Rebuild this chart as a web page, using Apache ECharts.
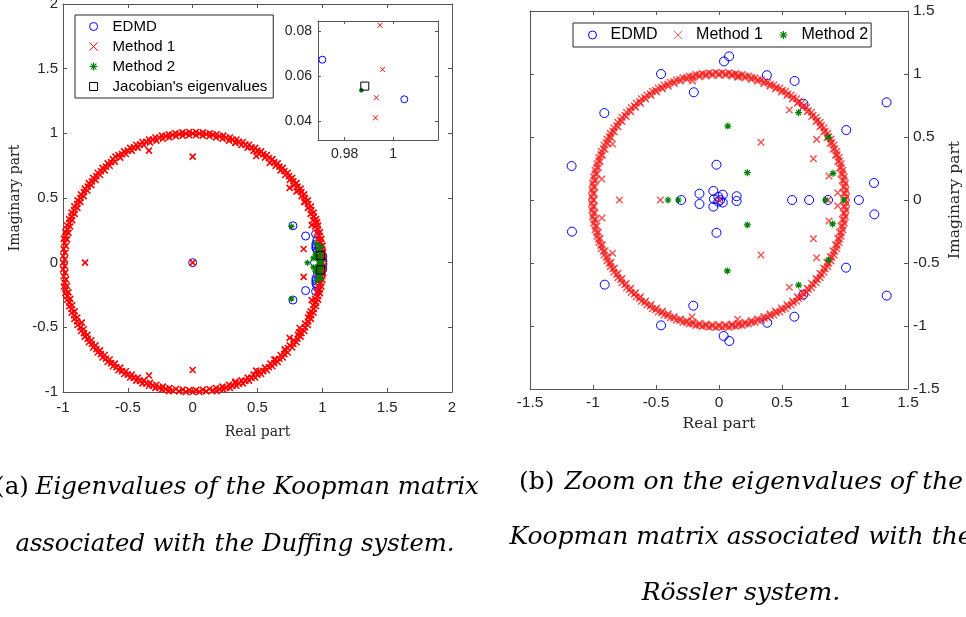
<!DOCTYPE html>
<html><head><meta charset="utf-8">
<script src="https://cdn.jsdelivr.net/npm/echarts@6/dist/echarts.min.js"></script>
<style>html,body{margin:0;padding:0;background:#fff}#c{width:966px;height:617px}</style>
</head><body><div id="c"></div>
<script>
// ---------------- data: left plot (Duffing) ----------------
const leftRing = [
[1.000,0],[0.999,0.052],[0.995,0.105],[0.988,0.156],[0.978,0.208],[0.966,0.259],[0.960,0.313],[0.934,0.358],[0.914,0.407],[0.891,0.454],[0.866,0.5],[0.839,0.545],[0.809,0.588],[0.777,0.629],[0.743,0.669],[0.707,0.707],[0.669,0.743],[0.629,0.777],[0.588,0.809],[0.545,0.839],[0.5,0.866],[0.454,0.891],[0.407,0.914],[0.358,0.934],[0.309,0.951],[0.259,0.966],[0.208,0.978],[0.156,0.988],[0.105,0.995],[0.052,0.999],
[0,1.000],[-0.052,0.999],[-0.105,0.995],[-0.156,0.988],[-0.208,0.978],[-0.259,0.966],[-0.309,0.951],[-0.358,0.934],[-0.407,0.914],[-0.454,0.891],[-0.5,0.866],[-0.545,0.839],[-0.595,0.82],[-0.629,0.777],[-0.669,0.743],[-0.707,0.707],[-0.743,0.669],[-0.777,0.629],[-0.809,0.588],[-0.839,0.545],[-0.866,0.5],[-0.891,0.454],[-0.914,0.407],[-0.934,0.358],[-0.951,0.309],[-0.966,0.259],[-0.978,0.208],[-0.988,0.156],[-0.995,0.105],[-0.999,0.052],
[-1.000,0],[-0.999,-0.052],[-0.995,-0.105],[-0.988,-0.156],[-0.978,-0.208],[-0.966,-0.259],[-0.951,-0.309],[-0.934,-0.358],[-0.914,-0.407],[-0.891,-0.454],[-0.866,-0.5],[-0.839,-0.545],[-0.809,-0.588],[-0.777,-0.629],[-0.743,-0.669],[-0.707,-0.707],[-0.669,-0.743],[-0.629,-0.777],[-0.588,-0.809],[-0.545,-0.839],[-0.5,-0.866],[-0.454,-0.891],[-0.407,-0.914],[-0.358,-0.934],[-0.309,-0.951],[-0.259,-0.966],[-0.208,-0.978],[-0.156,-0.988],[-0.105,-0.995],[-0.052,-0.999],
[0,-1.000],[0.052,-0.999],[0.105,-0.995],[0.156,-0.988],[0.208,-0.978],[0.259,-0.966],[0.309,-0.951],[0.358,-0.934],[0.407,-0.914],[0.454,-0.891],[0.5,-0.866],[0.545,-0.839],[0.588,-0.809],[0.629,-0.777],[0.669,-0.743],[0.707,-0.707],[0.733,-0.66],[0.777,-0.629],[0.809,-0.588],[0.839,-0.545],[0.866,-0.5],[0.891,-0.454],[0.914,-0.407],[0.934,-0.358],[0.951,-0.309],[0.966,-0.259],[0.978,-0.208],[0.988,-0.156],[0.995,-0.105],[0.999,-0.052],
[0.985,0.026],[0.982,0.077],[0.977,0.129],[0.969,0.18],[0.958,0.23],[0.944,0.28],[0.929,0.329],[0.91,0.377],[0.889,0.424],[0.866,0.47],[0.84,0.515],[0.812,0.558],[0.781,0.6],[0.749,0.64],[0.714,0.678],[0.678,0.714],[0.64,0.749],[0.595,0.772],[0.558,0.812],[0.515,0.84],[0.47,0.866],[0.424,0.889],[0.377,0.91],[0.329,0.929],[0.28,0.944],[0.23,0.958],[0.18,0.969],[0.129,0.977],[0.077,0.982],[0.026,0.985],
[-0.026,0.985],[-0.077,0.982],[-0.129,0.977],[-0.18,0.969],[-0.23,0.958],[-0.28,0.944],[-0.329,0.929],[-0.377,0.91],[-0.424,0.889],[-0.47,0.866],[-0.515,0.84],[-0.558,0.812],[-0.6,0.781],[-0.64,0.749],[-0.678,0.714],[-0.714,0.678],[-0.749,0.64],[-0.781,0.6],[-0.812,0.558],[-0.84,0.515],[-0.866,0.47],[-0.889,0.424],[-0.91,0.377],[-0.929,0.329],[-0.944,0.28],[-0.958,0.23],[-0.969,0.18],[-0.977,0.129],[-0.982,0.077],[-0.985,0.026],
[-0.985,-0.026],[-0.982,-0.077],[-0.977,-0.129],[-0.969,-0.18],[-0.958,-0.23],[-0.944,-0.28],[-0.929,-0.329],[-0.91,-0.377],[-0.889,-0.424],[-0.855,-0.464],[-0.84,-0.515],[-0.812,-0.558],[-0.781,-0.6],[-0.749,-0.64],[-0.714,-0.678],[-0.678,-0.714],[-0.64,-0.749],[-0.6,-0.781],[-0.558,-0.812],[-0.515,-0.84],[-0.47,-0.866],[-0.424,-0.889],[-0.377,-0.91],[-0.329,-0.929],[-0.28,-0.944],[-0.23,-0.958],[-0.18,-0.969],[-0.129,-0.977],[-0.077,-0.982],[-0.026,-0.985],
[0.026,-0.985],[0.077,-0.982],[0.129,-0.977],[0.18,-0.969],[0.23,-0.958],[0.28,-0.944],[0.329,-0.929],[0.377,-0.91],[0.424,-0.889],[0.47,-0.866],[0.515,-0.84],[0.558,-0.812],[0.6,-0.781],[0.64,-0.749],[0.678,-0.714],[0.714,-0.678],[0.749,-0.64],[0.781,-0.6],[0.812,-0.558],[0.825,-0.505],[0.866,-0.47],[0.889,-0.424],[0.91,-0.377],[0.929,-0.329],[0.944,-0.28],[0.958,-0.23],[0.969,-0.18],[0.977,-0.129],[0.982,-0.077],[0.985,-0.026],
[1.01,0.026],[1.007,0.079],[1.001,0.132],[0.993,0.184],[0.982,0.236],[0.968,0.287],[0.952,0.337],[0.933,0.387],[0.912,0.435],[0.888,0.482],[0.861,0.528],[0.832,0.572],[0.801,0.615],[0.768,0.656],[0.733,0.695],[0.695,0.733],[0.656,0.768],[0.615,0.801],[0.572,0.832],[0.528,0.861],[0.482,0.888],[0.435,0.912],[0.387,0.933],[0.337,0.952],[0.287,0.968],[0.236,0.982],[0.184,0.993],[0.132,1.001],[0.079,1.007],[0.026,1.01],
[-0.026,1.01],[-0.079,1.007],[-0.132,1.001],[-0.184,0.993],[-0.236,0.982],[-0.287,0.968],[-0.337,0.952],[-0.387,0.933],[-0.435,0.912],[-0.482,0.888],[-0.528,0.861],[-0.572,0.832],[-0.615,0.801],[-0.656,0.768],[-0.695,0.733],[-0.733,0.695],[-0.768,0.656],[-0.801,0.615],[-0.832,0.572],[-0.861,0.528],[-0.888,0.482],[-0.912,0.435],[-0.933,0.387],[-0.952,0.337],[-0.968,0.287],[-0.982,0.236],[-0.993,0.184],[-1.001,0.132],[-1.007,0.079],[-1.01,0.026],
[-1.01,-0.026],[-1.007,-0.079],[-1.001,-0.132],[-0.993,-0.184],[-0.982,-0.236],[-0.968,-0.287],[-0.952,-0.337],[-0.933,-0.387],[-0.912,-0.435],[-0.888,-0.482],[-0.861,-0.528],[-0.832,-0.572],[-0.801,-0.615],[-0.768,-0.656],[-0.733,-0.695],[-0.695,-0.733],[-0.656,-0.768],[-0.615,-0.801],[-0.572,-0.832],[-0.528,-0.861],[-0.482,-0.888],[-0.435,-0.912],[-0.387,-0.933],[-0.337,-0.952],[-0.287,-0.968],[-0.236,-0.982],[-0.184,-0.993],[-0.132,-1.001],[-0.079,-1.007],[-0.026,-1.01],
[0.026,-1.01],[0.079,-1.007],[0.132,-1.001],[0.184,-0.993],[0.236,-0.982],[0.287,-0.968],[0.337,-0.952],[0.387,-0.933],[0.435,-0.912],[0.482,-0.888],[0.528,-0.861],[0.572,-0.832],[0.615,-0.801],[0.656,-0.768],[0.695,-0.733],[0.733,-0.695],[0.768,-0.656],[0.801,-0.615],[0.832,-0.572],[0.861,-0.528],[0.888,-0.482],[0.912,-0.435],[0.933,-0.387],[0.952,-0.337],[0.968,-0.287],[0.982,-0.236],[0.993,-0.184],[1.001,-0.132],[1.007,-0.079],[1.01,-0.026]
];
const leftMethod1Extra = [[0,0],[-0.83,0],[-0.337,0.866],[-0.337,-0.872],[0,0.82],[0,-0.83],[0.49,0.825],[0.49,-0.835],[0.748,0.578],[0.748,-0.582],[0.856,0.106],[0.856,-0.11],[0.918,0.29],[0.918,-0.29],[0.993,0.05],[0.993,-0.05],[0.993,0.041],[0.993,-0.041],[0.996,0.063],[0.996,-0.063],[0.995,0.083],[0.995,-0.083],[0.33,-0.92],[0.33,0.925],[0.8,0.55],[0.82,-0.54],[0.71,-0.67],[0.86,0.47],[0.63,-0.75],[0.9,-0.4]];
const leftEdmd = [[0,0],[0.773,0.285],[0.773,-0.289],[0.871,0.206],[0.871,-0.216],[0.948,0.222],[0.948,-0.222],[0.95,0.145],[0.95,0.128],[0.95,0.112],[0.95,-0.124],[0.95,-0.142],[0.95,-0.16],[0.958,0.175],[0.958,-0.18],[0.962,0.09],[0.962,-0.09],[0.975,0.12],[0.975,-0.12],[0.971,0.067],[0.971,-0.067],[0.985,0.03],[0.985,-0.03],[1.004,0.049],[1.004,-0.049],[1.005,0.012],[1.005,-0.012],[0.94,0.0],[0.99,0.095],[0.99,-0.095]];
const leftMethod2 = [[0.762,0.28],[0.762,-0.28],[0.885,0],[0.987,0.054],[0.987,-0.054],[0.97,0.1],[0.97,-0.1],[0.99,0.125],[0.99,-0.125],[0.96,0.03],[0.96,-0.03],[0.985,0.085],[0.985,-0.085],[0.975,0.005],[0.945,0.065],[0.945,-0.065],[0.998,0.02],[0.998,-0.02],[0.93,0.035],[0.93,-0.035],[0.955,0.145],[0.955,-0.14]];
const leftJacobian = [[0.988,0.0555],[0.988,-0.0555]];
// inset (zoom of the left plot)
const insetEdmd = [[0.9708,0.0673],[1.0046,0.0496]];
const insetMethod1 = [[0.9946,0.0827],[0.9956,0.063],[0.9931,0.0503],[0.9927,0.0413]];
const insetMethod2 = [[0.9869,0.0536]];
const insetJacobian = [[0.9883,0.0555]];
const insetXTicks = [0.98, 1];
const insetYTicks = [0.04, 0.06, 0.08];

// ---------------- data: right plot (Rossler) ----------------
const rightRing = [
[1.012,0.026],[1.009,0.079],[1.003,0.132],[0.995,0.184],[0.984,0.236],[0.97,0.287],[0.954,0.338],[0.935,0.387],[0.913,0.436],[0.889,0.483],[0.863,0.529],[0.834,0.573],[0.803,0.616],[0.77,0.657],[0.734,0.697],[0.697,0.734],[0.657,0.77],[0.616,0.803],[0.573,0.834],[0.529,0.863],[0.483,0.889],[0.436,0.913],[0.387,0.935],[0.338,0.954],[0.287,0.97],[0.236,0.984],[0.184,0.995],[0.132,1.003],[0.079,1.009],[0.026,1.012],
[-0.026,1.012],[-0.079,1.009],[-0.132,1.003],[-0.184,0.995],[-0.236,0.984],[-0.287,0.97],[-0.338,0.954],[-0.387,0.935],[-0.436,0.913],[-0.483,0.889],[-0.529,0.863],[-0.573,0.834],[-0.616,0.803],[-0.657,0.77],[-0.697,0.734],[-0.734,0.697],[-0.77,0.657],[-0.803,0.616],[-0.834,0.573],[-0.863,0.529],[-0.889,0.483],[-0.913,0.436],[-0.935,0.387],[-0.954,0.338],[-0.97,0.287],[-0.984,0.236],[-0.995,0.184],[-1.003,0.132],[-1.009,0.079],[-1.012,0.026],
[-1.012,-0.026],[-1.009,-0.079],[-1.003,-0.132],[-0.995,-0.184],[-0.984,-0.236],[-0.97,-0.287],[-0.954,-0.338],[-0.935,-0.387],[-0.913,-0.436],[-0.889,-0.483],[-0.863,-0.529],[-0.834,-0.573],[-0.803,-0.616],[-0.77,-0.657],[-0.734,-0.697],[-0.697,-0.734],[-0.657,-0.77],[-0.616,-0.803],[-0.573,-0.834],[-0.529,-0.863],[-0.483,-0.889],[-0.436,-0.913],[-0.387,-0.935],[-0.338,-0.954],[-0.287,-0.97],[-0.236,-0.984],[-0.184,-0.995],[-0.132,-1.003],[-0.079,-1.009],[-0.026,-1.012],
[0.026,-1.012],[0.079,-1.009],[0.132,-1.003],[0.184,-0.995],[0.236,-0.984],[0.287,-0.97],[0.338,-0.954],[0.387,-0.935],[0.436,-0.913],[0.483,-0.889],[0.529,-0.863],[0.573,-0.834],[0.616,-0.803],[0.657,-0.77],[0.697,-0.734],[0.734,-0.697],[0.77,-0.657],[0.803,-0.616],[0.834,-0.573],[0.863,-0.529],[0.889,-0.483],[0.913,-0.436],[0.935,-0.387],[0.954,-0.338],[0.97,-0.287],[0.984,-0.236],[0.995,-0.184],[1.003,-0.132],[1.009,-0.079],[1.012,-0.026],
[0.99,0],[0.989,0.052],[0.985,0.103],[0.978,0.155],[0.968,0.206],[0.956,0.256],[0.942,0.306],[0.924,0.355],[0.904,0.403],[0.882,0.449],[0.857,0.495],[0.83,0.539],[0.801,0.582],[0.769,0.623],[0.736,0.662],[0.7,0.7],[0.662,0.736],[0.623,0.769],[0.582,0.801],[0.539,0.83],[0.495,0.857],[0.449,0.882],[0.403,0.904],[0.355,0.924],[0.306,0.942],[0.256,0.956],[0.206,0.968],[0.155,0.978],[0.103,0.985],[0.052,0.989],
[0,0.99],[-0.052,0.989],[-0.103,0.985],[-0.155,0.978],[-0.206,0.968],[-0.256,0.956],[-0.306,0.942],[-0.355,0.924],[-0.403,0.904],[-0.449,0.882],[-0.495,0.857],[-0.539,0.83],[-0.582,0.801],[-0.623,0.769],[-0.662,0.736],[-0.7,0.7],[-0.736,0.662],[-0.769,0.623],[-0.801,0.582],[-0.83,0.539],[-0.857,0.495],[-0.882,0.449],[-0.904,0.403],[-0.924,0.355],[-0.942,0.306],[-0.956,0.256],[-0.968,0.206],[-0.978,0.155],[-0.985,0.103],[-0.989,0.052],
[-0.99,0],[-0.989,-0.052],[-0.985,-0.103],[-0.978,-0.155],[-0.968,-0.206],[-0.956,-0.256],[-0.942,-0.306],[-0.924,-0.355],[-0.904,-0.403],[-0.882,-0.449],[-0.857,-0.495],[-0.83,-0.539],[-0.801,-0.582],[-0.769,-0.623],[-0.736,-0.662],[-0.7,-0.7],[-0.662,-0.736],[-0.623,-0.769],[-0.582,-0.801],[-0.539,-0.83],[-0.495,-0.857],[-0.449,-0.882],[-0.403,-0.904],[-0.355,-0.924],[-0.306,-0.942],[-0.256,-0.956],[-0.206,-0.968],[-0.155,-0.978],[-0.103,-0.985],[-0.052,-0.989],
[0,-0.99],[0.052,-0.989],[0.103,-0.985],[0.155,-0.978],[0.206,-0.968],[0.256,-0.956],[0.306,-0.942],[0.355,-0.924],[0.403,-0.904],[0.449,-0.882],[0.495,-0.857],[0.539,-0.83],[0.582,-0.801],[0.623,-0.769],[0.662,-0.736],[0.7,-0.7],[0.736,-0.662],[0.769,-0.623],[0.801,-0.582],[0.83,-0.539],[0.857,-0.495],[0.882,-0.449],[0.904,-0.403],[0.924,-0.355],[0.942,-0.306],[0.956,-0.256],[0.968,-0.206],[0.978,-0.155],[0.985,-0.103],[0.989,-0.052],
[1.005,0],[1.004,0.053],[0.999,0.105],[0.993,0.157],[0.983,0.209],[0.971,0.26],[0.956,0.311],[0.938,0.36],[0.918,0.409],[0.895,0.456],[0.87,0.503],[0.843,0.547],[0.813,0.591],[0.781,0.632],[0.747,0.672],[0.711,0.711],[0.672,0.747],[0.632,0.781],[0.591,0.813],[0.547,0.843],[0.503,0.87],[0.456,0.895],[0.409,0.918],[0.36,0.938],[0.311,0.956],[0.26,0.971],[0.209,0.983],[0.157,0.993],[0.105,0.999],[0.053,1.004],
[0,1.005],[-0.053,1.004],[-0.105,0.999],[-0.157,0.993],[-0.209,0.983],[-0.26,0.971],[-0.311,0.956],[-0.36,0.938],[-0.409,0.918],[-0.456,0.895],[-0.503,0.87],[-0.547,0.843],[-0.591,0.813],[-0.632,0.781],[-0.672,0.747],[-0.711,0.711],[-0.747,0.672],[-0.781,0.632],[-0.813,0.591],[-0.843,0.547],[-0.87,0.503],[-0.895,0.456],[-0.918,0.409],[-0.938,0.36],[-0.956,0.311],[-0.971,0.26],[-0.983,0.209],[-0.993,0.157],[-0.999,0.105],[-1.004,0.053],
[-1.005,0],[-1.004,-0.053],[-0.999,-0.105],[-0.993,-0.157],[-0.983,-0.209],[-0.971,-0.26],[-0.956,-0.311],[-0.938,-0.36],[-0.918,-0.409],[-0.895,-0.456],[-0.87,-0.503],[-0.843,-0.547],[-0.813,-0.591],[-0.781,-0.632],[-0.747,-0.672],[-0.711,-0.711],[-0.672,-0.747],[-0.632,-0.781],[-0.591,-0.813],[-0.547,-0.843],[-0.503,-0.87],[-0.456,-0.895],[-0.409,-0.918],[-0.36,-0.938],[-0.311,-0.956],[-0.26,-0.971],[-0.209,-0.983],[-0.157,-0.993],[-0.105,-0.999],[-0.053,-1.004],
[0,-1.005],[0.053,-1.004],[0.105,-0.999],[0.157,-0.993],[0.209,-0.983],[0.26,-0.971],[0.311,-0.956],[0.36,-0.938],[0.409,-0.918],[0.456,-0.895],[0.503,-0.87],[0.547,-0.843],[0.591,-0.813],[0.632,-0.781],[0.672,-0.747],[0.711,-0.711],[0.747,-0.672],[0.781,-0.632],[0.813,-0.591],[0.843,-0.547],[0.87,-0.503],[0.895,-0.456],[0.918,-0.409],[0.938,-0.36],[0.956,-0.311],[0.971,-0.26],[0.983,-0.209],[0.993,-0.157],[0.999,-0.105],[1.004,-0.053]
];
const rightMethod1Extra = [[0,0],[-0.79,0],[-0.465,0],[-0.93,0.167],[-0.929,-0.143],[-0.844,0.445],[-0.844,-0.423],[-0.21,0.945],[-0.214,-0.926],[0.148,0.974],[0.148,-0.947],[0.558,0.714],[0.558,-0.693],[0.333,0.458],[0.333,-0.437],[0.775,0.481],[0.775,-0.458],[0.749,0.328],[0.749,-0.307],[0.873,0.19],[0.873,-0.167],[0.942,0.058],[0.942,-0.045],[0.865,0]];
const rightEdmd = [[-0.46,1.0],[-0.46,-0.995],[0.04,1.1],[0.037,-1.079],[0.08,1.14],[0.082,-1.119],[0.38,0.99],[0.383,-0.974],[0.6,0.945],[0.598,-0.926],[0.67,0.765],[0.669,-0.751],[1.33,0.775],[1.331,-0.759],[1.01,0.555],[1.008,-0.537],[-0.2,0.855],[-0.204,-0.839],[-0.91,0.69],[-0.907,-0.672],[-1.17,0.27],[-1.167,-0.251],[-0.02,0.28],[-0.02,-0.26],[1.23,0.135],[1.233,-0.114],[-0.155,0.05],[-0.155,-0.032],[-0.045,0.072],[-0.045,-0.053],[-0.04,0.006],[0.03,0.042],[0.03,-0.02],[-0.005,0.025],[-0.005,-0.013],[0.01,0.0],[0.14,0.03],[0.14,-0.008],[-0.3,0],[0.58,0],[0.715,0],[0.865,0],[1.11,0]];
const rightMethod2 = [[-0.405,0],[-0.323,0],[0.07,0.587],[0.066,-0.563],[0.225,0.217],[0.225,-0.198],[0.632,0.693],[0.632,-0.675],[0.868,0.497],[0.868,-0.476],[0.905,0.212],[0.902,-0.19],[0.845,0],[0.99,0]];

// ---------------- styling ----------------
const AX = '#555555', TXT = '#262626';
const BLUE = '#0000ff', RED = '#ff0000', GREEN = '#008000', PINK = 'rgba(245,20,20,0.72)';
const crossPath = 'path://M0,0L10,10M10,0L0,10';
const starPath = 'path://M5,0L5,10M0,5L10,5M1.5,1.5L8.5,8.5M8.5,1.5L1.5,8.5';
const squarePath = 'path://M0,0L10,0L10,10L0,10Z';
const NONE = 'rgba(0,0,0,0)';

function axis(extra) {
  const base = {
    type: 'value',
    axisLine: {show: true, onZero: false, lineStyle: {color: AX, width: 1}},
    axisTick: {show: true, inside: true, length: 4, lineStyle: {color: AX, width: 1}},
    splitLine: {show: false},
    axisLabel: {show: false}
  };
  return Object.assign(base, extra);
}
function lab(margin, size, extra) {
  return Object.assign({show: true, margin: margin, fontFamily: 'Liberation Sans', fontSize: size, color: TXT,
    showMinLabel: true, showMaxLabel: true, hideOverlap: false}, extra || {});
}
const nameStyle = (s) => ({fontFamily: 'DejaVu Serif', fontSize: s, color: TXT});

function sc(name, data, xi, yi, sym, size, stroke, width) {
  return {
    type: 'scatter', name: name, data: data, xAxisIndex: xi, yAxisIndex: yi,
    symbol: sym, symbolSize: size, silent: true, animation: false,
    emphasis: {disabled: true},
    itemStyle: {color: NONE, borderColor: stroke, borderWidth: width, opacity: 1}
  };
}
function cap(x, y, text, size) {
  return {type: 'text', x: x, y: y, silent: true, style: {
    text: text, fill: '#000',
    align: 'center', verticalAlign: 'middle', textAlign: 'center', textVerticalAlign: 'middle',
    rich: {u: {fontFamily: 'DejaVu Serif', fontSize: size, fill: '#000'},
           i: {fontFamily: 'DejaVu Serif', fontStyle: 'italic', fontSize: size, fill: '#000'}}}};
}

const chart = echarts.init(document.getElementById('c'), null, {renderer: 'canvas'});
const option = {
  animation: false,
  backgroundColor: '#fff',
  grid: [
    {left: 63, top: 4, width: 389, height: 388, outerBoundsMode: 'none', containLabel: false},
    {left: 530, top: 11, width: 378, height: 378, outerBoundsMode: 'none', containLabel: false},
    {left: 318, top: 21, width: 120, height: 119, outerBoundsMode: 'none', containLabel: false,
     show: true, backgroundColor: '#fff', borderWidth: 0}
  ],
  xAxis: [
    axis({gridIndex: 0, position: 'bottom', min: -1, max: 2, interval: 0.5, axisLabel: lab(8, 15),
      name: 'Real part', nameLocation: 'middle', nameGap: 33, nameTextStyle: nameStyle(14)}),
    axis({gridIndex: 0, position: 'top', min: -1, max: 2, interval: 0.5}),
    axis({gridIndex: 1, position: 'bottom', min: -1.5, max: 1.5, interval: 0.5, axisLabel: lab(6, 15.5),
      name: 'Real part', nameLocation: 'middle', nameGap: 24, nameTextStyle: nameStyle(15.5)}),
    axis({gridIndex: 1, position: 'top', min: -1.5, max: 1.5, interval: 0.5}),
    axis({gridIndex: 2, position: 'bottom', min: 0.969, max: 1.0185,
      axisLabel: lab(7, 14, {customValues: insetXTicks}),
      axisTick: {show: true, inside: true, length: 3, customValues: insetXTicks, lineStyle: {color: AX}}}),
    axis({gridIndex: 2, position: 'top', min: 0.969, max: 1.0185,
      axisTick: {show: true, inside: true, length: 3, customValues: insetXTicks, lineStyle: {color: AX}}})
  ],
  yAxis: [
    axis({gridIndex: 0, position: 'left', min: -1, max: 2, interval: 0.5, axisLabel: lab(5, 15),
      name: 'Imaginary part', nameLocation: 'middle', nameGap: 41, nameRotate: 90, nameTextStyle: nameStyle(14)}),
    axis({gridIndex: 0, position: 'right', min: -1, max: 2, interval: 0.5}),
    axis({gridIndex: 1, position: 'right', min: -1.5, max: 1.5, interval: 0.5, axisLabel: lab(5, 15.5),
      name: 'Imaginary part', nameLocation: 'middle', nameGap: 39, nameRotate: 90, nameTextStyle: nameStyle(15.5)}),
    axis({gridIndex: 1, position: 'left', min: -1.5, max: 1.5, interval: 0.5}),
    axis({gridIndex: 2, position: 'left', min: 0.0314, max: 0.0846,
      axisLabel: lab(6, 14, {customValues: insetYTicks}),
      axisTick: {show: true, inside: true, length: 3, customValues: insetYTicks, lineStyle: {color: AX}}}),
    axis({gridIndex: 2, position: 'right', min: 0.0314, max: 0.0846,
      axisTick: {show: true, inside: true, length: 3, customValues: insetYTicks, lineStyle: {color: AX}}})
  ],
  legend: [
    {orient: 'vertical', left: 75, top: 15, padding: [4, 6, 4, 14], itemGap: 5, itemWidth: 28, itemHeight: 8,
     borderColor: '#262626', borderWidth: 1, backgroundColor: '#fff', selectedMode: false,
     textStyle: {fontFamily: 'Liberation Sans', fontSize: 15, color: '#000'},
     data: [
       {name: 'EDMD', icon: 'circle', itemStyle: {color: NONE, borderColor: BLUE, borderWidth: 1}},
       {name: 'Method 1', icon: crossPath, itemStyle: {color: NONE, borderColor: RED, borderWidth: 1}},
       {name: 'Method 2', icon: starPath, itemStyle: {color: NONE, borderColor: GREEN, borderWidth: 1.2}},
       {name: "Jacobian's eigenvalues", icon: squarePath, itemStyle: {color: NONE, borderColor: '#000', borderWidth: 1}}
     ]},
    {orient: 'horizontal', left: 573, top: 23, padding: [4, 3, 4, 15], itemGap: 16, itemWidth: 26, itemHeight: 8,
     borderColor: '#262626', borderWidth: 1, backgroundColor: '#fff', selectedMode: false,
     textStyle: {fontFamily: 'Liberation Sans', fontSize: 16, color: '#000'},
     data: [
       {name: 'EDMD', icon: 'circle', itemStyle: {color: NONE, borderColor: BLUE, borderWidth: 1}},
       {name: 'Method 1', icon: crossPath, itemStyle: {color: NONE, borderColor: PINK, borderWidth: 1}},
       {name: 'Method 2', icon: starPath, itemStyle: {color: NONE, borderColor: GREEN, borderWidth: 1.2}}
     ]}
  ],
  series: [
    sc('EDMD', leftEdmd, 0, 0, 'circle', 8, BLUE, 1),
    sc('Method 1', leftRing.concat(leftMethod1Extra), 0, 0, crossPath, 6, RED, 1.6),
    sc('Method 2', leftMethod2, 0, 0, starPath, 6, GREEN, 1.2),
    sc("Jacobian's eigenvalues", leftJacobian, 0, 0, squarePath, 8, '#000', 1),
    sc('EDMD', insetEdmd, 4, 4, 'circle', 7, BLUE, 1),
    sc('Method 1', insetMethod1, 4, 4, crossPath, 5, RED, 1),
    sc('Method 2', insetMethod2, 4, 4, starPath, 5, GREEN, 1.2),
    sc("Jacobian's eigenvalues", insetJacobian, 4, 4, squarePath, 8, '#000', 1),
    sc('EDMD', rightEdmd, 2, 2, 'circle', 9, BLUE, 1),
    sc('Method 1', rightRing.concat(rightMethod1Extra), 2, 2, crossPath, 6.5, PINK, 1.5),
    sc('Method 2', rightMethod2, 2, 2, starPath, 7, GREEN, 1.2)
  ],
  graphic: [
    cap(237, 488, '{u|(a)}\u00a0\u00a0{i|Eigenvalues of the Koopman matrix}', 24.5),
    cap(235, 545, '{i|associated with the Duffing system.}', 24.3),
    cap(741, 482, '{u|(b)}\u00a0\u00a0\u00a0{i|Zoom on the eigenvalues of the}', 25),
    cap(741, 537, '{i|Koopman matrix associated with the}', 25),
    cap(741, 593, '{i|Rössler system.}', 25)
  ]
};
chart.setOption(option);
</script>
</body></html>
